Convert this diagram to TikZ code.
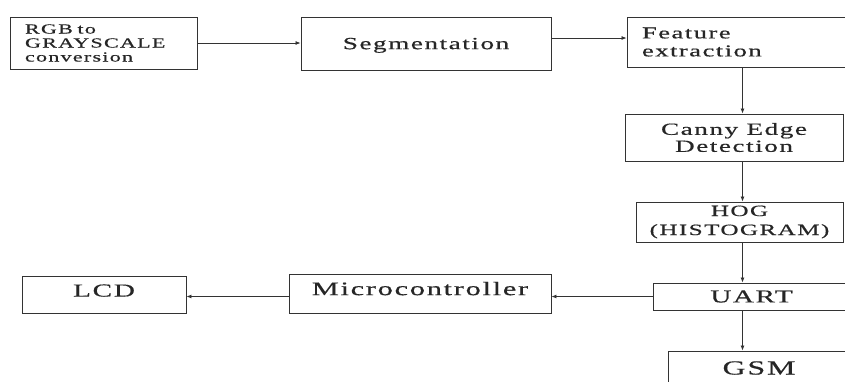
\documentclass[tikz,border=0pt]{standalone}
\usepackage{fontspec}
\setmainfont{Liberation Serif}
\newfontfamily\wf[FakeStretch=1.6,LetterSpace=9,FakeBold=0.5]{Liberation Serif}
\usetikzlibrary{arrows.meta}
\definecolor{ln}{HTML}{333333}
\definecolor{tx}{HTML}{262626}
\tikzset{
  blk/.style={draw=ln, line width=0.9pt, rectangle, inner sep=0pt, text=tx, font=\wf, align=center},
  arr/.style={draw=ln, line width=0.8pt, -{Latex[length=5pt,width=4pt]}}
}
\begin{document}
\begin{tikzpicture}[x=1pt,y=-1pt]
\useasboundingbox (0,0) rectangle (845,381);
\fill[white] (0,0) rectangle (845,381);
\clip (0,0) rectangle (845,381);
\coordinate (ax) at (742.5,0);
\node[blk, minimum width=187pt, minimum height=52pt, text width=157pt, align=left,
  font=\wf\fontsize{13.8}{14}\selectfont] (rgb) at (103.5,43) {RGB to\\GRAYSCALE\\conversion};
\node[blk, minimum width=250pt, minimum height=53pt, text depth=0pt, font=\wf\fontsize{17}{19}\selectfont] (seg) at (426,43.5) {Segmentation};
\node[blk, minimum width=223pt, minimum height=50pt, text width=193pt, align=left,
  font=\wf\fontsize{16.6}{18}\selectfont] (feat) at (738.5,42) {Feature\\extraction};
\node[blk, minimum width=218pt, minimum height=47pt, font=\wf\fontsize{17}{17}\selectfont] (canny) at (734,137.5) {Canny Edge\\Detection};
\node[blk, minimum width=207pt, minimum height=40pt, font=\wf\fontsize{15.7}{19}\selectfont] (hog) at (739.5,222) {HOG\\(HISTOGRAM)};
\node[blk, minimum width=197pt, minimum height=27pt, font=\wf\fontsize{18.2}{20}\selectfont] (uart) at (751.5,296.5) {UART};
\node[blk, minimum width=182pt, minimum height=34pt, font=\wf\fontsize{20}{22}\selectfont] (gsm) at (759,368) {GSM};
\node[blk, minimum width=262pt, minimum height=39pt, text depth=10pt, font=\wf\fontsize{19}{21}\selectfont] (micro) at (420,293.5) {Microcontroller};
\node[blk, minimum width=164pt, minimum height=37pt, text depth=8pt, font=\wf\fontsize{18.3}{20}\selectfont] (lcd) at (104,294.5) {LCD};
\draw[arr] (rgb.east) -- (rgb.east -| seg.west);
\draw[arr] ([yshift=4pt]feat.west -| seg.east) -- ([yshift=4pt]feat.west);
\draw[arr] (feat.south -| ax) -- (canny.north -| ax);
\draw[arr] (canny.south -| ax) -- (hog.north -| ax);
\draw[arr] (hog.south -| ax) -- (uart.north -| ax);
\draw[arr] (uart.south -| ax) -- (gsm.north -| ax);
\draw[arr] (uart.west) -- (uart.west -| micro.east);
\draw[arr] (micro.west |- uart.west) -- (lcd.east |- uart.west);
\end{tikzpicture}
\end{document}
